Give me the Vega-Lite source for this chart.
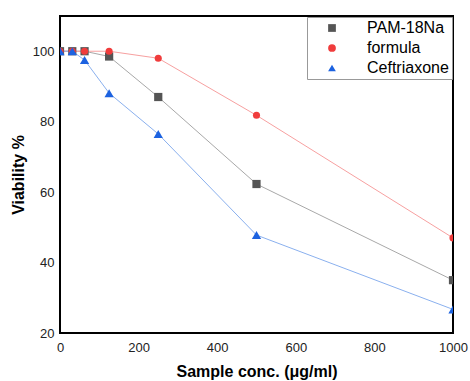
{
  "$schema": "https://vega.github.io/schema/vega-lite/v6.json",
  "width": 393,
  "height": 317,
  "autosize": {"type": "none"},
  "padding": {"left": 60, "top": 16, "right": 17, "bottom": 48},
  "background": "white",
  "config": {
    "font": "Liberation Sans",
    "view": {"stroke": "black", "strokeWidth": 2},
    "axis": {
      "grid": false,
      "domain": false,
      "ticks": false,
      "labelFont": "Liberation Sans",
      "labelFontSize": 13,
      "labelColor": "#222",
      "titleFont": "Liberation Sans",
      "titleFontSize": 16,
      "titleFontWeight": "bold",
      "titleColor": "black"
    }
  },
  "data": {
    "values": [
      {"conc": 0, "viability": 100, "series": "PAM-18Na"},
      {"conc": 31.25, "viability": 100, "series": "PAM-18Na"},
      {"conc": 62.5, "viability": 100, "series": "PAM-18Na"},
      {"conc": 125, "viability": 98.5, "series": "PAM-18Na"},
      {"conc": 250, "viability": 87, "series": "PAM-18Na"},
      {"conc": 500, "viability": 62.3, "series": "PAM-18Na"},
      {"conc": 1000, "viability": 35, "series": "PAM-18Na"},
      {"conc": 0, "viability": 100, "series": "formula"},
      {"conc": 31.25, "viability": 100, "series": "formula"},
      {"conc": 62.5, "viability": 100, "series": "formula"},
      {"conc": 125, "viability": 100, "series": "formula"},
      {"conc": 250, "viability": 98, "series": "formula"},
      {"conc": 500, "viability": 81.8, "series": "formula"},
      {"conc": 1000, "viability": 47, "series": "formula"},
      {"conc": 0, "viability": 100, "series": "Ceftriaxone"},
      {"conc": 31.25, "viability": 100, "series": "Ceftriaxone"},
      {"conc": 62.5, "viability": 97.5, "series": "Ceftriaxone"},
      {"conc": 125, "viability": 88.1, "series": "Ceftriaxone"},
      {"conc": 250, "viability": 76.5, "series": "Ceftriaxone"},
      {"conc": 500, "viability": 47.8, "series": "Ceftriaxone"},
      {"conc": 1000, "viability": 26.7, "series": "Ceftriaxone"}
    ]
  },
  "encoding": {
    "x": {
      "field": "conc",
      "type": "quantitative",
      "title": "Sample conc. (μg/ml)",
      "scale": {"domain": [0, 1000], "nice": false},
      "axis": {"values": [0, 200, 400, 600, 800, 1000], "format": "d", "labelFlush": false, "labelOverlap": false, "labelPadding": 8, "titlePadding": 9}
    },
    "y": {
      "field": "viability",
      "type": "quantitative",
      "title": "Viability %",
      "scale": {"domain": [20, 110], "nice": false, "zero": false},
      "axis": {"values": [20, 40, 60, 80, 100], "labelPadding": 6, "titlePadding": 6}
    }
  },
  "layer": [
    {
      "mark": {"type": "line", "strokeWidth": 1, "clip": true},
      "encoding": {
        "stroke": {
          "field": "series",
          "type": "nominal",
          "scale": {"range": ["#8ab0ee", "#a8a8a8", "#f7a0a0"]},
          "legend": null
        }
      }
    },
    {
      "mark": {"type": "point", "filled": true, "opacity": 1, "clip": true},
      "encoding": {
        "color": {
          "field": "series",
          "type": "nominal",
          "scale": {"domain": ["PAM-18Na", "formula", "Ceftriaxone"], "range": ["#555555", "#f03c3c", "#1c62e0"]},
          "legend": {
            "title": null,
            "orient": "top-right",
            "offset": 1,
            "padding": 3,
            "rowPadding": 4,
            "fillColor": "white",
            "strokeColor": "#999999",
            "labelFont": "Liberation Sans",
            "labelFontSize": 16,
            "labelColor": "black",
            "symbolSize": 60,
            "symbolStrokeWidth": 0,
            "symbolOffset": 14,
            "labelOffset": 27
          }
        },
        "shape": {
          "field": "series",
          "type": "nominal",
          "scale": {"domain": ["PAM-18Na", "formula", "Ceftriaxone"], "range": ["square", "circle", "triangle-up"]}
        },
        "size": {
          "field": "series",
          "type": "nominal",
          "scale": {"range": [85, 50, 60]},
          "legend": null
        }
      }
    }
  ]
}
